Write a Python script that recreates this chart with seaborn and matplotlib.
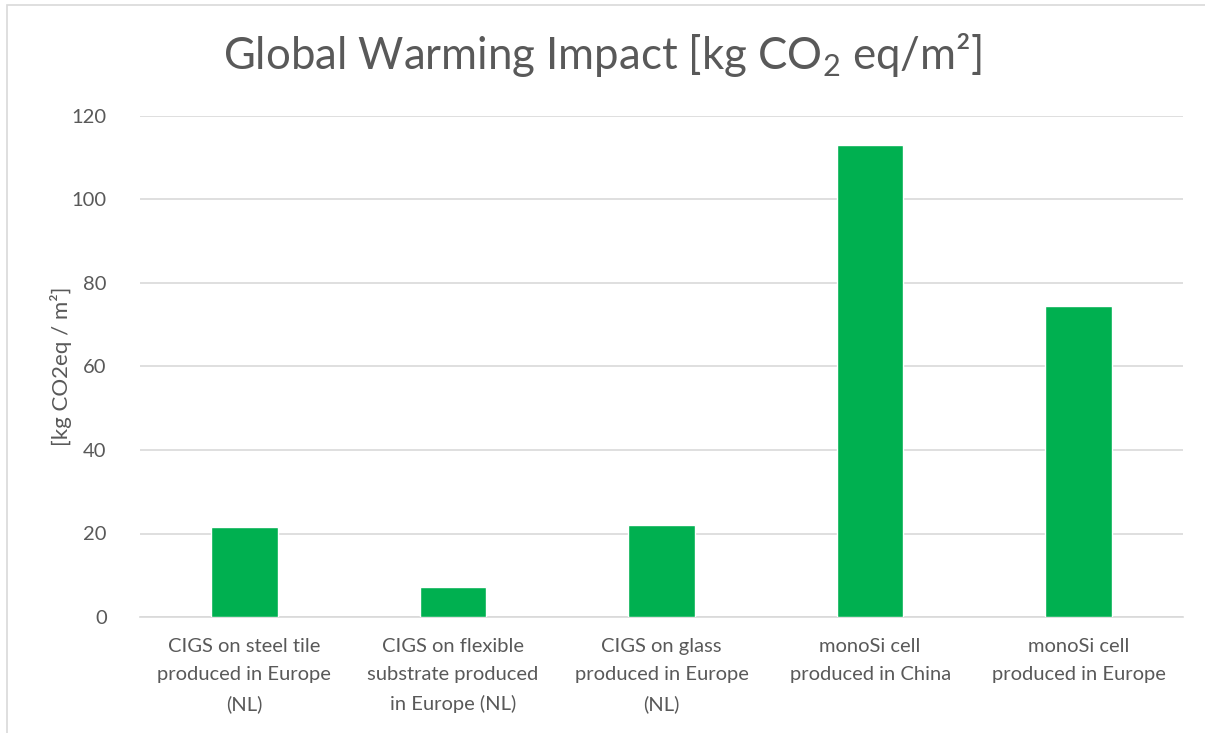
import matplotlib
matplotlib.use("Agg")
import matplotlib.pyplot as plt
import seaborn as sns
import pandas as pd
from matplotlib.patches import Rectangle

# categories and values
categories = [
    "CIGS on steel tile\nproduced in Europe\n(NL)",
    "CIGS on flexible\nsubstrate produced\nin Europe (NL)",
    "CIGS on glass\nproduced in Europe\n(NL)",
    "monoSi cell\nproduced in China",
    "monoSi cell\nproduced in Europe",
]
impact = [21.5, 7.3, 22.0, 113.0, 74.5]
yticks = [0, 20, 40, 60, 80, 100, 120]

df = pd.DataFrame({"category": categories, "impact": impact})

sns.set_style("white")
plt.rcParams["font.family"] = ["Lato", "DejaVu Sans"]
plt.rcParams["mathtext.fontset"] = "custom"
plt.rcParams["mathtext.rm"] = "Lato"
grey = "#595959"

fig = plt.figure(figsize=(12.05, 7.33), dpi=100)
ax = fig.add_axes([140 / 1205, 1 - 617 / 733, (1183 - 140) / 1205, (617 - 116) / 733])

sns.barplot(data=df, x="category", y="impact", color="#00b050", width=0.32,
            saturation=1, ax=ax, zorder=3)

ax.set_ylim(0, 120)
ax.set_xlim(-0.5, len(categories) - 0.5)
ax.set_yticks(yticks)
ax.grid(axis="y", color="#d9d9d9", linewidth=1.2, zorder=0)
for s in ["top", "right", "left"]:
    ax.spines[s].set_visible(False)
ax.spines["bottom"].set_color("#d9d9d9")
ax.spines["bottom"].set_linewidth(1.2)

# category boundary ticks on the x axis
ax.set_xticks([i - 0.5 for i in range(len(categories) + 1)], minor=True)
ax.tick_params(axis="x", which="minor", length=8, color="#d9d9d9", width=1.2)
ax.tick_params(axis="x", which="major", length=0, pad=15, labelsize=14.5, labelcolor=grey)
ax.tick_params(axis="y", length=0, pad=24, labelsize=14.5, labelcolor=grey)
for lab in ax.get_xticklabels():
    lab.set_linespacing(1.8)

ax.set_xlabel("")
ax.set_ylabel("[kg CO2eq / m²]", fontsize=16, color=grey, labelpad=0)

fig.text(0.5, 0.925, r"Global Warming Impact [kg CO$_\mathregular{2}$ eq/m²]",
         ha="center", va="center", fontsize=31.5, color=grey)

# light frame around the chart area
fig.patches.append(Rectangle((7 / 1205, -0.01), 1.2, 1 - 5 / 733 + 0.01,
                             transform=fig.transFigure, fill=False,
                             edgecolor="#d9d9d9", linewidth=1.2))

fig.savefig("out.png", dpi=100)
